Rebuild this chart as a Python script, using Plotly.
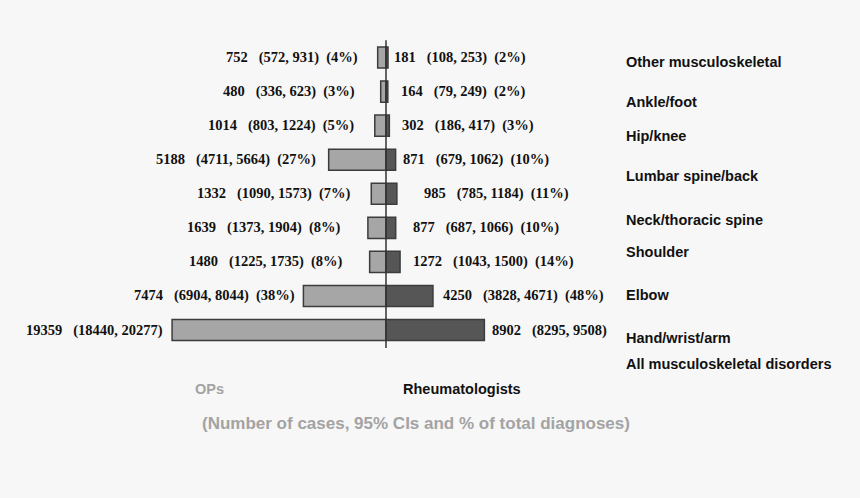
import plotly.graph_objects as go

# ---- data ----
ops_n = [19359, 7474, 1480, 1639, 1332, 5188, 1014, 480, 752]
ops_lo = [18440, 6904, 1225, 1373, 1090, 4711, 803, 336, 572]
ops_hi = [20277, 8044, 1735, 1904, 1573, 5664, 1224, 623, 931]
ops_pct = [None, 38, 8, 8, 7, 27, 5, 3, 4]

rh_n = [8902, 4250, 1272, 877, 985, 871, 302, 164, 181]
rh_lo = [8295, 3828, 1043, 687, 785, 679, 186, 79, 108]
rh_hi = [9508, 4671, 1500, 1066, 1184, 1062, 417, 249, 253]
rh_pct = [None, 48, 14, 10, 11, 10, 3, 2, 2]

categories = ["All musculoskeletal disorders", "Hand/wrist/arm", "Elbow", "Shoulder",
              "Neck/thoracic spine", "Lumbar spine/back", "Hip/knee", "Ankle/foot",
              "Other musculoskeletal"]

# ---- layout helpers (positions/styles) ----
cat_label_y = [-1.00, -0.23, 1.03, 2.29, 3.23, 4.52, 5.70, 6.69, 7.87]
left_gap = [7, 6, 25, 25, 18, 11, 19, 24, 18]
right_gap = [6, 8, 11, 15, 25, 5, 11, 11, 4]

rows = list(range(len(ops_n)))
NB = "\u00a0"

def lab(n, lo, hi, p):
    s = f"{n}{NB*3}({lo}, {hi})"
    if p is not None:
        s += f"{NB*2}({p}%)"
    return s

fig = go.Figure()
fig.add_trace(go.Bar(y=rows, x=[-v for v in ops_n], orientation="h", base=0,
                     marker=dict(color="#a6a6a6", line=dict(color="#3c3c3c", width=1.5)),
                     width=0.62, name="OPs", hoverinfo="skip"))
fig.add_trace(go.Bar(y=rows, x=rh_n, orientation="h", base=0,
                     marker=dict(color="#565656", line=dict(color="#3c3c3c", width=1.5)),
                     width=0.62, name="Rheumatologists", hoverinfo="skip"))

serif = dict(family="Liberation Serif", size=14.5, color="#111111")
ann = []
for i in rows:
    ann.append(dict(x=-ops_n[i], y=i, xref="x", yref="y", text="<b>" + lab(ops_n[i], ops_lo[i], ops_hi[i], ops_pct[i]) + "</b>",
                    xanchor="right", yanchor="middle", xshift=-left_gap[i], showarrow=False, font=serif))
    ann.append(dict(x=rh_n[i], y=i, xref="x", yref="y", text="<b>" + lab(rh_n[i], rh_lo[i], rh_hi[i], rh_pct[i]) + "</b>",
                    xanchor="left", yanchor="middle", xshift=right_gap[i], showarrow=False, font=serif))
sans = dict(family="Liberation Sans", size=14.5, color="#111111")
for c, yy in zip(categories, cat_label_y):
    ann.append(dict(x=624 / 860, y=yy, xref="paper", yref="y", text="<b>" + c + "</b>",
                    xanchor="left", yanchor="middle", showarrow=False, font=sans))
ann.append(dict(x=193 / 860, y=1 - 389 / 498, xref="paper", yref="paper", text="<b>OPs</b>",
                xanchor="left", yanchor="middle", showarrow=False,
                font=dict(family="Liberation Sans", size=14.5, color="#a3a3a3")))
ann.append(dict(x=401 / 860, y=1 - 389 / 498, xref="paper", yref="paper", text="<b>Rheumatologists</b>",
                xanchor="left", yanchor="middle", showarrow=False, font=sans))
ann.append(dict(x=416 / 860, y=1 - 423 / 498, xref="paper", yref="paper",
                text="<b>(Number of cases, 95% CIs and % of total diagnoses)</b>",
                xanchor="center", yanchor="middle", showarrow=False,
                font=dict(family="Liberation Sans", size=17, color="#a3a3a3")))

scale = 0.01105
xmin = -386 / scale
xmax = (860 - 386) / scale
pxy = 34.06
ymax = 330 / pxy
ymin = ymax - 498 / pxy

fig.update_layout(
    width=860, height=498, margin=dict(l=0, r=0, t=0, b=0),
    paper_bgcolor="#f7f7f7", plot_bgcolor="#f7f7f7",
    barmode="overlay", showlegend=False,
    xaxis=dict(range=[xmin, xmax], visible=False, fixedrange=True),
    yaxis=dict(range=[ymin, ymax], visible=False, fixedrange=True),
    annotations=ann,
    shapes=[dict(type="line", xref="x", yref="y", x0=0, x1=0, y0=-0.53, y1=8.51,
                 line=dict(color="#333333", width=1.5))],
)
fig.write_html("out.html", config={"displayModeBar": False},
               post_script="document.body.style.margin='0';document.body.style.background='#f7f7f7';")
